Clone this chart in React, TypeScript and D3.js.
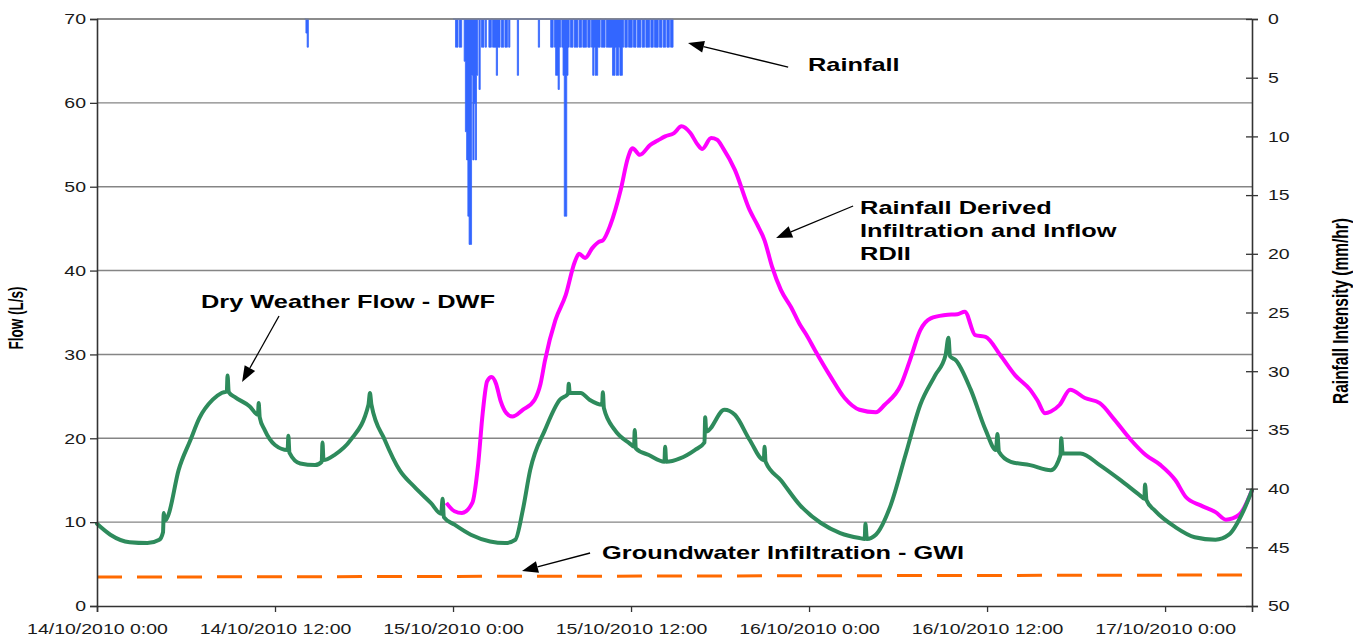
import { useEffect, useRef } from 'react';
import * as d3 from 'd3';

const WIDTH = 1353;
const HEIGHT = 637;
const MARGIN = { top: 19, right: 101, bottom: 31, left: 97 };
const END_HOUR = 77.86; // hours after 14/10/2010 0:00
const SX = 1.45; // the original figure is stretched sideways
const FONT = "'Liberation Sans', Arial, Helvetica, sans-serif";

const timeTickHours = [0, 12, 24, 36, 48, 60, 72];
const timeTickLabels = [
  '14/10/2010 0:00',
  '14/10/2010 12:00',
  '15/10/2010 0:00',
  '15/10/2010 12:00',
  '16/10/2010 0:00',
  '16/10/2010 12:00',
  '17/10/2010 0:00',
];
const flowTicks = [0, 10, 20, 30, 40, 50, 60, 70];
const rainTicks = [0, 5, 10, 15, 20, 25, 30, 35, 40, 45, 50];

// Dry Weather Flow (L/s)
const dwfHours = [
  0, 0.9, 2.2, 3.4, 4.2, 4.45, 4.5, 4.6, 4.8, 5.5, 6.3, 6.9, 7.8, 8.4, 8.75, 8.8, 8.88, 9.3, 10.3, 10.85,
  10.9, 10.97, 11.3, 12, 12.85, 12.9, 12.97, 13.7, 14.7, 15.15, 15.2, 15.27, 16, 17.1, 18.3, 18.4, 18.5, 19.4,
  20.4, 21.4, 22.5, 23.2, 23.3, 23.38, 24.1, 25.2, 26.5, 27.5, 28.2, 28.7, 29.2, 30.2, 31.2, 31.75, 31.8,
  31.87, 32.6, 33.2, 34.05, 34.1, 34.17, 34.9, 35.9, 36.2, 36.25, 36.32, 37.2, 38.25, 38.3, 38.37, 39.3,
  40.3, 40.95, 41.0, 41.07, 42.3, 43, 44, 44.95, 45.0, 45.07, 46.1, 47.4, 48.8, 50.1, 51.4, 51.75, 51.8,
  51.9, 52.5, 53.5, 54.5, 55.5, 56.5, 57.2, 57.4, 57.5, 57.9, 58.9, 59.9, 60.6, 60.7, 60.8, 61.6, 62.9,
  64.3, 64.95, 65.0, 65.1, 66.3, 67.6, 69, 70.3, 70.6, 70.65, 70.75, 71.3, 72.7, 74, 75.4, 76.3, 77.3, 77.86,
];
const dwfFlow = [
  9.8, 8.5, 7.6, 7.5, 7.9, 8.8, 11.1, 10.2, 10.8, 16.2, 19.8, 22.4, 24.6, 25.4, 25.6, 27.5, 25.5, 24.9, 23.8, 22.8,
  24.2, 22.5, 21, 19.2, 18.6, 20.3, 18.3, 17, 16.8, 17.2, 19.5, 17.4, 18, 19.8, 24, 25.4, 24, 19.8,
  16.2, 14.2, 12.3, 11, 12.8, 10.6, 9.7, 8.5, 7.7, 7.5, 7.9, 11.4, 16.2, 21, 24.6, 25.3, 26.5,
  25.4, 25.4, 24.6, 24, 25.5, 23.6, 21, 19.4, 19, 21, 18.8, 18, 17.2, 19, 17.2, 17.6,
  18.6, 19.5, 22.5, 20.8, 23.4, 22.8, 19.8, 17.4, 19, 17.2, 15, 12, 9.9, 8.7, 8.1, 8.0, 9.8,
  8.0, 8.5, 12, 18, 24, 27.5, 29.9, 32, 29.8, 29.3, 25.8, 21, 18.6, 20.5, 18.4, 17.2, 16.8,
  16.2, 18, 20, 18.2, 18.2, 16.8, 15, 13.2, 12.8, 14.5, 12.6, 11.4, 9.4, 8.2, 7.9, 8.5, 11.4, 13.8,
];

// Rainfall Derived Infiltration and Inflow (L/s)
const rdiiHours = [
  23.55, 24.1, 24.6, 25.3, 25.7, 26.0, 26.3, 26.6, 26.9, 27.2, 27.6, 28, 28.7, 29.5, 29.9, 30.2, 30.9, 31.6,
  32.2, 32.5, 32.9, 33.4, 33.8, 34.1, 34.6, 35.3, 35.8, 36.1, 36.6, 37.3, 37.8, 38.3, 38.9, 39.4, 40, 40.5,
  40.8, 41.4, 41.8, 42.2, 43, 44, 44.5, 45, 45.5, 46.1, 46.8, 47.4, 47.8, 48.4, 49.4, 50.4, 51.4, 52.5, 53.1,
  54.2, 54.8, 55.5, 56.2, 57.2, 58, 58.5, 59.2, 59.9, 60.9, 61.9, 62.9, 63.4, 63.9, 64.3, 64.9, 65.6, 66.6,
  67.6, 68.6, 69.7, 70.7, 71.7, 72.7, 73.4, 74.4, 75.4, 76.1, 77, 77.86,
];
const rdiiFlow = [
  12.3, 11.3, 11.1, 12.3, 17, 23, 26.8, 27.3, 26.5, 24.5, 23, 22.6, 23.4, 24.6, 26.5, 29.3, 34.1, 37.1,
  41, 42, 41.5, 42.7, 43.4, 43.6, 45.4, 49.6, 53.5, 54.6, 53.8, 55, 55.5, 56, 56.4, 57.2, 56.4, 55,
  54.5, 55.8, 55.6, 54.6, 52, 47.2, 45.5, 43.6, 40.5, 37.7, 35.6, 33.5, 32.4, 30.5, 27.5, 24.8, 23.4, 23.1, 24,
  26.4, 29.3, 32.9, 34.3, 34.7, 34.8, 35.1, 32.3, 32.1, 29.9, 27.5, 25.8, 24.5, 23, 23.2, 24, 25.8, 24.8,
  24.2, 22.2, 19.8, 18, 16.8, 15, 13, 12, 11.2, 10.3, 10.9, 13.8,
];

// Groundwater Infiltration (L/s)
const gwiHours = [0, 77.86];
const gwiFlow = [3.45, 3.7];

// Rainfall intensity (mm/hr), 5-minute readings
const rainStepHours = 5 / 60;
const rainEarlyStart = 14.0;
const rainEarly = [0, 1.2, 2.4, 0];
const rainMainStart = 24.0;
const rainMain = [
  0, 0, 2.4, 2.4, 0, 2.4, 2.4, 0, 0, 3.6,
  9.6, 12, 16.8, 19.2, 19.2, 4.8, 12, 7.2, 12, 4.8,
  0, 6, 0, 2.4, 2.4, 0, 2.4, 0, 0, 2.4,
  2.4, 0, 2.4, 2.4, 2.4, 4.8, 2.4, 2.4, 0, 2.4,
  2.4, 0, 2.4, 2.4, 0, 2.4, 0, 0, 0, 0,
  0, 0, 4.8, 0, 0, 0, 0, 0, 0, 0,
  0, 0, 0, 0, 0, 0, 0, 0, 0, 2.4,
  0, 0, 0, 0, 0, 0, 0, 0, 0, 2.4,
  2.4, 0, 2.4, 4.8, 4.8, 6, 2.4, 0, 2.4, 4.8,
  16.8, 16.8, 4.8, 2.4, 0, 2.4, 2.4, 0, 2.4, 2.4,
  2.4, 0, 2.4, 2.4, 0, 2.4, 2.4, 2.4, 0, 2.4,
  2.4, 0, 2.4, 4.8, 2.4, 4.8, 4.8, 2.4, 2.4, 0,
  2.4, 2.4, 2.4, 0, 2.4, 2.4, 2.4, 2.4, 2.4, 4.8,
  4.8, 2.4, 4.8, 4.8, 2.4, 4.8, 4.8, 2.4, 0, 2.4,
  2.4, 0, 2.4, 2.4, 2.4, 0, 2.4, 2.4, 0, 2.4,
  2.4, 2.4, 0, 2.4, 2.4, 0, 2.4, 2.4, 2.4, 0,
  2.4, 2.4, 0, 2.4, 2.4, 2.4, 0, 2.4, 2.4, 0,
  2.4, 2.4, 0, 2.4, 2.4, 0, 2.4, 2.4, 0,
];

// Callouts, placed in (hour, flow) coordinates
const labelTexts = [
  ['Rainfall'],
  ['Rainfall Derived', 'Infiltration and Inflow', 'RDII'],
  ['Dry Weather Flow - DWF'],
  ['Groundwater Infiltration - GWI'],
];
const labelHours = [47.93, 51.44, 7.01, 34.05];
const labelFlows = [63.8, 46.74, 35.54, 5.6];
const arrowFrom = [[46.59, 64.27], [50.97, 47.7], [12.27, 34.58], [33.24, 6.32]];
const arrowTo = [[39.84, 67.14], [45.78, 43.88], [9.78, 26.71], [28.65, 4.17]];

export default function App() {
  const svgRef = useRef<SVGSVGElement>(null);

  useEffect(() => {
    if (!svgRef.current) return;
    const svg = d3.select(svgRef.current);
    svg.selectAll('*').remove();

    const x0 = MARGIN.left;
    const x1 = WIDTH - MARGIN.right;
    const y0 = MARGIN.top;
    const y1 = HEIGHT - MARGIN.bottom;

    const x = d3.scaleLinear().domain([0, END_HOUR]).range([x0, x1]);
    const yFlow = d3.scaleLinear().domain([0, 70]).range([y1, y0]);
    const yRain = d3.scaleLinear().domain([0, 50]).range([y0, y1]);

    svg.append('rect').attr('width', WIDTH).attr('height', HEIGHT).attr('fill', '#fff');

    // Gridlines
    svg.append('g')
      .selectAll('line')
      .data(flowTicks.filter(d => d > 0))
      .join('line')
      .attr('x1', x0)
      .attr('x2', x1)
      .attr('y1', d => yFlow(d))
      .attr('y2', d => yFlow(d))
      .attr('stroke', '#858585')
      .attr('stroke-width', 1.4);

    // GWI dashed line
    const flowLine = d3.line<[number, number]>()
      .x(d => x(d[0]))
      .y(d => yFlow(d[1]));
    const smoothLine = d3.line<[number, number]>()
      .x(d => x(d[0]))
      .y(d => yFlow(d[1]))
      .curve(d3.curveMonotoneX);

    svg.append('path')
      .attr('d', flowLine(gwiHours.map((h, i) => [h, gwiFlow[i]] as [number, number])))
      .attr('fill', 'none')
      .attr('stroke', '#ff6a00')
      .attr('stroke-width', 3)
      .attr('stroke-dasharray', '25 15');

    // Rainfall (hanging from the top, inverted right axis)
    const rainArea = d3.area<[number, number]>()
      .x(d => x(d[0]))
      .y0(yRain(0))
      .y1(d => yRain(d[1]))
      .curve(d3.curveStepAfter);
    const rainSeries = [
      rainEarly.map((v, i) => [rainEarlyStart + i * rainStepHours, v] as [number, number]),
      rainMain.map((v, i) => [rainMainStart + i * rainStepHours, v] as [number, number]),
    ];
    svg.append('g')
      .selectAll('path')
      .data(rainSeries)
      .join('path')
      .attr('d', d => rainArea(d))
      .attr('fill', '#3366ff')
      .attr('stroke', '#3366ff')
      .attr('stroke-width', 0.8);

    // RDII and DWF
    svg.append('path')
      .attr('d', smoothLine(rdiiHours.map((h, i) => [h, rdiiFlow[i]] as [number, number])))
      .attr('fill', 'none')
      .attr('stroke', '#ff00ff')
      .attr('stroke-width', 4)
      .attr('stroke-linejoin', 'round');

    svg.append('path')
      .attr('d', smoothLine(dwfHours.map((h, i) => [h, dwfFlow[i]] as [number, number])))
      .attr('fill', 'none')
      .attr('stroke', '#2e8b5c')
      .attr('stroke-width', 4)
      .attr('stroke-linejoin', 'round')
      .attr('stroke-linecap', 'round');

    // Top border
    svg.append('line')
      .attr('x1', x0).attr('x2', x1).attr('y1', y0).attr('y2', y0)
      .attr('stroke', '#858585').attr('stroke-width', 1.4);

    // Axes
    const styleAxis = (g: d3.Selection<SVGGElement, unknown, null, undefined>) => {
      g.select('.domain').attr('stroke', '#333').attr('stroke-width', 1.6);
      g.selectAll('.tick line').attr('stroke', '#333').attr('stroke-width', 1.3);
      g.selectAll('text').attr('font-family', FONT).attr('font-size', 15).attr('fill', '#1a1a1a');
    };
    const TX = 1.3;

    const left = svg.append('g')
      .attr('transform', `translate(${x0},0)`)
      .call(d3.axisLeft(yFlow).tickValues(flowTicks).tickSizeOuter(0).tickSize(7));
    styleAxis(left);
    left.selectAll('.tick text')
      .attr('x', null)
      .attr('transform', `translate(-11,0) scale(${TX},1)`);

    const right = svg.append('g')
      .attr('transform', `translate(${x1},0)`)
      .call(d3.axisRight(yRain).tickValues(rainTicks).tickSizeOuter(0).tickSize(6));
    styleAxis(right);
    right.selectAll('.tick line').attr('x1', -6);
    right.selectAll('.tick text')
      .attr('x', null)
      .attr('transform', `translate(16,0) scale(${TX},1)`);

    const bottom = svg.append('g')
      .attr('transform', `translate(0,${y1})`)
      .call(d3.axisBottom(x).tickValues(timeTickHours).tickFormat((_, i) => timeTickLabels[i]).tickSizeOuter(0).tickSize(6));
    styleAxis(bottom);
    bottom.selectAll('.tick text')
      .attr('y', null)
      .attr('dy', null)
      .attr('transform', `translate(0,28) scale(${TX},1)`);

    // Axis titles
    svg.append('text')
      .attr('transform', `translate(23,318) rotate(-90) scale(1,${SX})`)
      .attr('text-anchor', 'middle')
      .attr('font-family', FONT)
      .attr('font-weight', 'bold')
      .attr('font-size', 13.5)
      .text('Flow (L/s)');

    svg.append('text')
      .attr('transform', `translate(1348,311) rotate(-90) scale(1,${SX})`)
      .attr('text-anchor', 'middle')
      .attr('font-family', FONT)
      .attr('font-weight', 'bold')
      .attr('font-size', 15.5)
      .text('Rainfall Intensity (mm/hr)');

    // Callout labels
    labelTexts.forEach((lines, i) => {
      lines.forEach((line, j) => {
        svg.append('text')
          .attr('transform', `translate(${x(labelHours[i])},${yFlow(labelFlows[i]) + j * 23}) scale(${SX},1)`)
          .attr('font-family', FONT)
          .attr('font-weight', 'bold')
          .attr('font-size', 17.5)
          .attr('fill', '#000')
          .text(line);
      });
    });

    // Callout arrows
    arrowFrom.forEach((from, i) => {
      const to = arrowTo[i];
      const ax = x(from[0]);
      const ay = yFlow(from[1]);
      const bx = x(to[0]);
      const by = yFlow(to[1]);
      const len = Math.hypot(bx - ax, by - ay);
      const ux = (bx - ax) / len;
      const uy = (by - ay) / len;
      const headLen = 16;
      const headHalf = 6;
      const baseX = bx - ux * headLen;
      const baseY = by - uy * headLen;
      svg.append('line')
        .attr('x1', ax).attr('y1', ay).attr('x2', baseX).attr('y2', baseY)
        .attr('stroke', '#000').attr('stroke-width', 1.3);
      svg.append('polygon')
        .attr('points', [
          [bx, by],
          [baseX - uy * headHalf, baseY + ux * headHalf],
          [baseX + uy * headHalf, baseY - ux * headHalf],
        ].map(p => p.join(',')).join(' '))
        .attr('fill', '#000');
    });
  }, []);

  return (
    <svg
      ref={svgRef}
      width={WIDTH}
      height={HEIGHT}
      style={{ position: 'absolute', left: 0, top: 0, background: '#fff' }}
    />
  );
}
